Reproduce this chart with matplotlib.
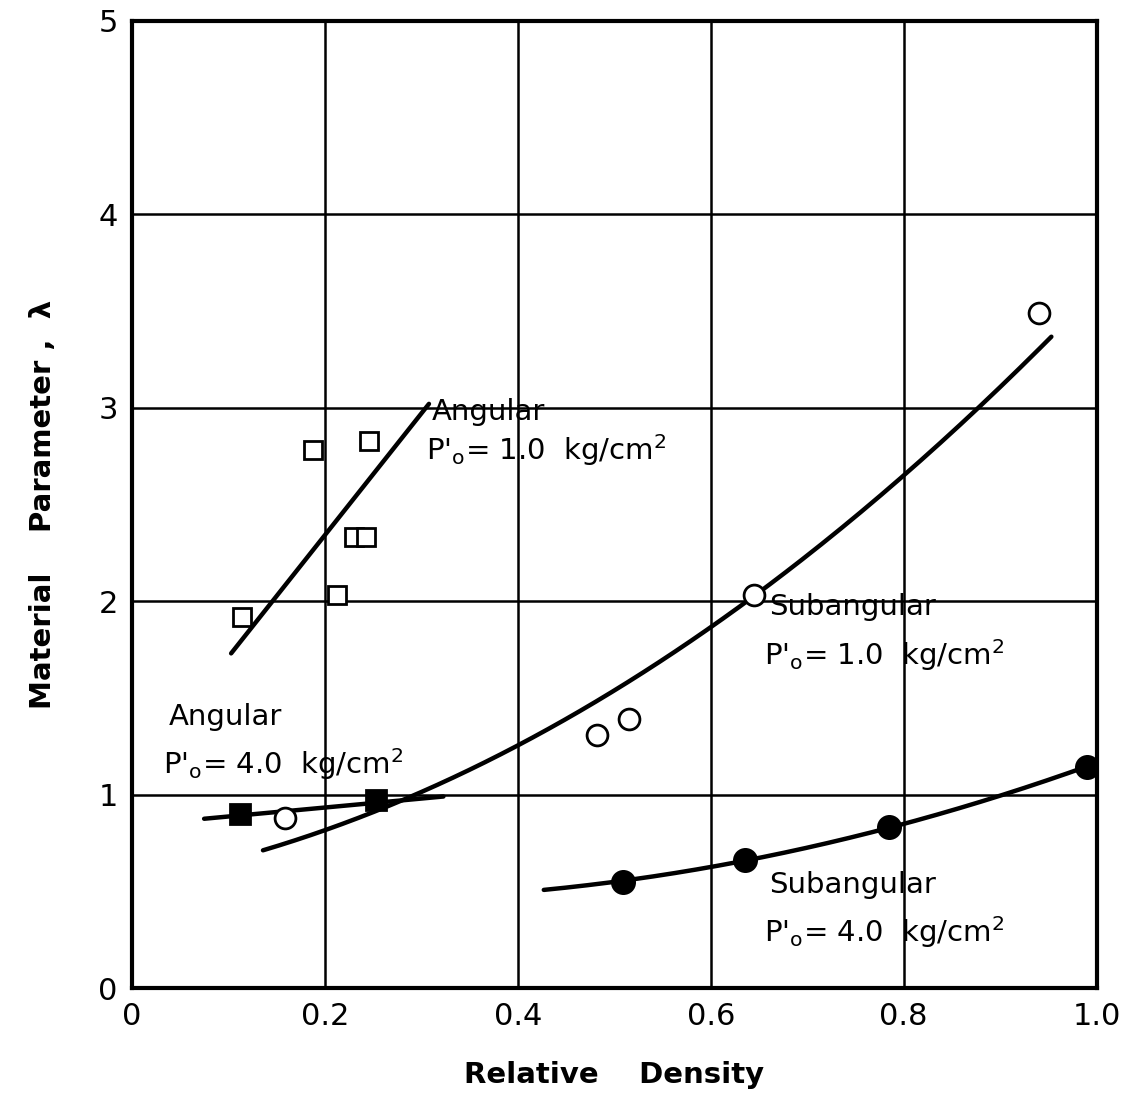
import numpy as np
import matplotlib
matplotlib.use("Agg")
import matplotlib.pyplot as plt

plt.rcParams['font.family'] = ['DejaVu Sans']
plt.rcParams['mathtext.default'] = 'regular'

# Angular, P'o = 1.0 kg/cm2 (open squares)
ang1_x = [0.114, 0.188, 0.246, 0.230, 0.243, 0.213]
ang1_y = [1.92, 2.78, 2.83, 2.33, 2.33, 2.03]
ang1_line_x = [0.103, 0.308]
ang1_line_y = [1.73, 3.02]

# Angular, P'o = 4.0 kg/cm2 (filled squares)
ang4_x = [0.112, 0.253]
ang4_y = [0.90, 0.97]
ang4_line_x = [0.075, 0.323]
ang4_line_y = [0.875, 0.99]

# Subangular, P'o = 1.0 kg/cm2 (open circles)
sub1_x = [0.159, 0.482, 0.515, 0.645, 0.940]
sub1_y = [0.88, 1.31, 1.39, 2.03, 3.49]
sub1_curve_x = [0.136, 0.205, 0.290, 0.394, 0.593, 0.642, 0.953]
sub1_curve_y = [0.74, 0.81, 0.96, 1.24, 1.85, 2.03, 3.36]

# Subangular, P'o = 4.0 kg/cm2 (filled circles)
sub4_x = [0.509, 0.636, 0.785, 0.990]
sub4_y = [0.55, 0.66, 0.83, 1.145]
sub4_curve_x = [0.427, 0.509, 0.636, 0.785, 0.990]
sub4_curve_y = [0.51, 0.55, 0.66, 0.83, 1.145]

xticks = [0, 0.2, 0.4, 0.6, 0.8, 1.0]
xticklabels = ['0', '0.2', '0.4', '0.6', '0.8', '1.0']
yticks = [0, 1, 2, 3, 4, 5]
yticklabels = ['0', '1', '2', '3', '4', '5']

fig = plt.figure(figsize=(11.26, 10.99), dpi=100)
ax = fig.add_axes([0.117, 0.101, 0.857, 0.880])
ax.set_xlim(0, 1.0)
ax.set_ylim(0, 5)

for gx in xticks[1:-1]:
    ax.axvline(gx, color='black', lw=1.8, zorder=1)
for gy in yticks[1:-1]:
    ax.axhline(gy, color='black', lw=1.8, zorder=1)

for s in ax.spines.values():
    s.set_linewidth(3)

ax.set_xticks(xticks)
ax.set_xticklabels(xticklabels)
ax.set_yticks(yticks)
ax.set_yticklabels(yticklabels)
ax.tick_params(length=0, labelsize=22, pad=10)

def smooth(xs, ys, deg=2):
    c = np.polyfit(xs, ys, deg)
    xx = np.linspace(min(xs), max(xs), 200)
    return xx, np.polyval(c, xx)

lw = 3.2
ax.plot(ang1_line_x, ang1_line_y, color='black', lw=lw, solid_capstyle='round', zorder=3)
ax.plot(ang4_line_x, ang4_line_y, color='black', lw=lw, solid_capstyle='round', zorder=3)
xx, yy = smooth(sub1_curve_x, sub1_curve_y, 2)
ax.plot(xx, yy, color='black', lw=lw, solid_capstyle='round', zorder=3)
xx, yy = smooth(sub4_curve_x, sub4_curve_y, 2)
ax.plot(xx, yy, color='black', lw=lw, solid_capstyle='round', zorder=3)

ax.plot(ang1_x, ang1_y, 's', ms=13, mfc='white', mec='black', mew=2, zorder=4)
ax.plot(ang4_x, ang4_y, 's', ms=14, mfc='black', mec='black', mew=2, zorder=4)
ax.plot(sub1_x, sub1_y, 'o', ms=15, mfc='white', mec='black', mew=2, zorder=4)
ax.plot(sub4_x, sub4_y, 'o', ms=16, mfc='black', mec='black', mew=2, zorder=4)

fs = 21
ax.text(0.311, 2.98, 'Angular', fontsize=fs, va='center', ha='left')
ax.text(0.305, 2.78, "P$'_o$= 1.0  kg/cm$^2$", fontsize=fs, va='center', ha='left')
ax.text(0.661, 1.97, 'Subangular', fontsize=fs, va='center', ha='left')
ax.text(0.655, 1.72, "P$'_o$= 1.0  kg/cm$^2$", fontsize=fs, va='center', ha='left')
ax.text(0.038, 1.40, 'Angular', fontsize=fs, va='center', ha='left')
ax.text(0.032, 1.16, "P$'_o$= 4.0  kg/cm$^2$", fontsize=fs, va='center', ha='left')
ax.text(0.661, 0.53, 'Subangular', fontsize=fs, va='center', ha='left')
ax.text(0.655, 0.29, "P$'_o$= 4.0  kg/cm$^2$", fontsize=fs, va='center', ha='left')

ax.set_xlabel('Relative    Density', fontsize=21, fontweight='bold', labelpad=22)
ax.set_ylabel('Material    Parameter ,  λ', fontsize=21, fontweight='bold', labelpad=30)

fig.savefig('out.png', dpi=100)
